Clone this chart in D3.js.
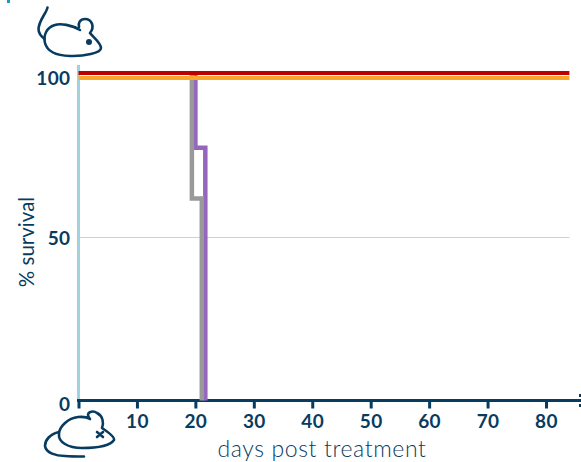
<!DOCTYPE html>
<html>
<head>
<meta charset="utf-8">
<script src="https://cdn.jsdelivr.net/npm/d3@7"></script>
<style>
  html, body { margin: 0; padding: 0; background: #fff; }
  svg { display: block; }
</style>
</head>
<body>
<div id="chart"></div>
<script>
var xTicks = [10, 20, 30, 40, 50, 60, 70, 80];
var yTicks = [0, 50, 100];
var gridValues = [50];

// kaplan-meier steps, [day, % survival]
var redSeries = [[0, 100], [84, 100]];
var orangeSeries = [[0, 100], [84, 100]];
var graySeries = [[19.4, 100], [19.4, 62], [21.1, 62], [21.1, 0]];
var purpleSeries = [[20, 100], [20, 77.5], [21.7, 77.5], [21.7, 0]];

var width = 581, height = 462;
var dark = '#073c60';
var font = 'Lato, sans-serif';

var x = d3.scaleLinear().domain([0, 80]).range([78.5, 546]);
var y = d3.scaleLinear().domain([0, 100]).range([400.5, 74.5]);

var svg = d3.select('#chart').append('svg')
    .attr('width', width)
    .attr('height', height);

// bit of the logo left at the top
svg.append('rect')
    .attr('x', 7).attr('y', 0)
    .attr('width', 3).attr('height', 3)
    .attr('fill', '#1b9cc0');

// grid
svg.selectAll('.grid')
    .data(gridValues)
    .enter()
    .append('line')
    .attr('class', 'grid')
    .attr('x1', x(0))
    .attr('x2', x(84))
    .attr('y1', function(d){ return y(d); })
    .attr('y2', function(d){ return y(d); })
    .attr('stroke', '#c9d2d4')
    .attr('stroke-width', 1);

// y axis
var yAxis = svg.append('g')
    .attr('transform', 'translate(' + x(0) + ',0)')
    .call(d3.axisLeft(y).tickValues(yTicks).tickSize(0).tickPadding(8));
yAxis.select('.domain').remove();
yAxis.selectAll('text')
    .attr('fill', dark)
    .attr('dy', function(d){ return d === 50 ? '0.35em' : '0.5em'; })
    .style('font-family', font)
    .style('font-weight', 700)
    .style('font-size', '19px')
    .style('letter-spacing', '0.4px');

svg.append('line')
    .attr('x1', x(0)).attr('x2', x(0))
    .attr('y1', 65).attr('y2', 400)
    .attr('stroke', '#a2d2df')
    .attr('stroke-width', 3);

// x axis
var xAxis = svg.append('g')
    .attr('transform', 'translate(0,' + y(0) + ')')
    .call(d3.axisBottom(x).tickValues([0].concat(xTicks)).tickSize(8).tickPadding(6)
      .tickFormat(function(d){ return d === 0 ? '' : d; }));
xAxis.select('.domain').remove();
xAxis.selectAll('line')
    .attr('stroke', dark)
    .attr('stroke-width', 3);
xAxis.selectAll('text')
    .attr('fill', dark)
    .style('font-family', font)
    .style('font-weight', 700)
    .style('font-size', '19px')
    .style('letter-spacing', '0.4px');

svg.append('line')
    .attr('x1', x(0) - 1.5).attr('x2', width)
    .attr('y1', y(0)).attr('y2', y(0))
    .attr('stroke', dark)
    .attr('stroke-width', 3);

// cut off marker at the right edge
svg.selectAll('.edge')
    .data([-5, 5])
    .enter()
    .append('rect')
    .attr('class', 'edge')
    .attr('x', 579)
    .attr('y', function(d){ return y(0) + d - 1.5; })
    .attr('width', 2)
    .attr('height', 3)
    .attr('fill', dark);

// survival lines
var line = d3.line()
    .x(function(d){ return x(d[0]); })
    .y(function(d){ return y(d[1]); });

function drawSeries(data, color, w, dy){
  svg.append('path')
      .datum(data)
      .attr('d', line)
      .attr('transform', 'translate(0,' + dy + ')')
      .attr('fill', 'none')
      .attr('stroke', color)
      .attr('stroke-width', w)
      .attr('stroke-linejoin', 'miter');
}

drawSeries(purpleSeries, '#9467bd', 4.5, 0);
drawSeries(graySeries, '#999999', 4.5, 0);
drawSeries(orangeSeries, '#f9a72b', 4, 3.5);
drawSeries(redSeries, '#c00000', 4, -1.5);

// labels
svg.append('text')
    .attr('transform', 'translate(34,242) rotate(-90)')
    .attr('text-anchor', 'middle')
    .attr('fill', dark)
    .style('font-family', font)
    .style('font-weight', 400)
    .style('font-size', '20.5px')
    .text('% survival');

svg.append('text')
    .attr('x', 322)
    .attr('y', 457)
    .attr('text-anchor', 'middle')
    .attr('fill', dark)
    .style('font-family', font)
    .style('font-weight', 300)
    .style('font-size', '23px')
    .style('letter-spacing', '0.6px')
    .text('days post treatment');

// live mouse icon
var liveMouse = svg.append('g')
    .attr('fill', 'none')
    .attr('stroke', dark)
    .attr('stroke-width', 2.6)
    .attr('stroke-linecap', 'round')
    .attr('stroke-linejoin', 'round');
liveMouse.append('path')
    .attr('d', 'M47.5,7.5 C46,14 39,20 38.5,29 C38.5,34 42,37 44.5,39');
liveMouse.append('path')
    .attr('d', 'M80,30 C72,25 60,23 55,25 C47,27 43,35 45,43 C47,51 56,55.5 70,56 C84,56.5 101,53 101,48 C101,43 92,36 90,33 C95,27 92,19 85,19 C80,19 78,23 79,27');
svg.append('circle')
    .attr('cx', 89).attr('cy', 42).attr('r', 3)
    .attr('fill', dark);

// dead mouse icon
var deadMouse = svg.append('g')
    .attr('fill', 'none')
    .attr('stroke', dark)
    .attr('stroke-width', 2.6)
    .attr('stroke-linecap', 'round')
    .attr('stroke-linejoin', 'round');
deadMouse.append('path')
    .attr('d', 'M90,419 C84,412 93,410 97,413 C103,416 104,423 102,428 C108,432 115,437 114,440 C110,446 95,448 82,448 C68,448 58,442 59,434 C59,427 68,418 78,417 C83,416.5 87,417 90,419');
deadMouse.append('path')
    .attr('d', 'M59,432 C50,434 45,440 45,446 C46,453 56,456 65,456 C72,456.5 78,456.5 84,456.5');
deadMouse.append('path')
    .attr('d', 'M97,432 L103,437 M103,432 L97,437');
</script>
</body>
</html>
